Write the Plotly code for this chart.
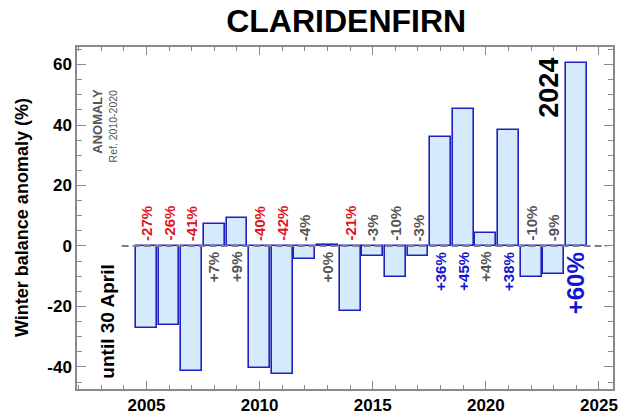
import plotly.graph_objects as go

# Winter balance anomaly relative to the 2010-2020 reference, measured until 30 April
years = [2005, 2006, 2007, 2008, 2009, 2010, 2011, 2012, 2013, 2014,
         2015, 2016, 2017, 2018, 2019, 2020, 2021, 2022, 2023, 2024]
anomaly = [-27.2, -26.0, -41.4, 7.4, 9.4, -40.4, -42.4, -4.4, 0.3, -21.4,
           -3.4, -10.4, -3.2, 36.2, 45.4, 4.4, 38.2, -10.2, -9.4, 60.4]

x_ticks = [2005, 2010, 2015, 2020, 2025]
y_ticks = [-40, -20, 0, 20, 40, 60]
y_tick_text = ["-40", "-20", "0", "20", "40", "60"]

FONT = "Liberation Sans, Arial, Helvetica, sans-serif"
RED = "#e3141c"
GREY = "#555555"
BLUE = "#1414d2"
AXIS = "#8a8a8a"

fig = go.Figure()

fig.add_trace(go.Bar(
    x=years, y=anomaly, width=0.92,
    marker=dict(color="#d5ebfb", line=dict(color="#2020c0", width=1.6)),
    hoverinfo="x+y",
))

# dashed zero reference line
fig.add_shape(type="line", xref="x", yref="y", x0=2003.9, x1=2025.35, y0=0, y1=0,
              line=dict(color="#808080", width=2, dash="7px,4px"), layer="above")

annotations = []
for yr, v in zip(years, anomaly):
    r = round(v)
    txt = f"{r:+d}%"
    if abs(v) >= 20:
        col = RED if v < 0 else BLUE
    else:
        col = GREY
    big = yr == years[-1]
    size = 24 if big else 15
    if v < 0:
        anchor, shift = "bottom", 3
    else:
        anchor, shift = "top", -4
    annotations.append(dict(
        x=yr, y=0, xref="x", yref="y", text=txt, showarrow=False,
        textangle=-90, yanchor=anchor, xanchor="center", yshift=shift,
        font=dict(family=FONT, size=size, color=col, weight="bold"),
    ))

annotations += [
    dict(x=2022.8, y=63, xref="x", yref="y", text="2024", showarrow=False,
         textangle=-90, yanchor="top", xanchor="center",
         font=dict(family=FONT, size=27, color="black", weight="bold")),
    dict(x=2002.8, y=41.3, xref="x", yref="y", text="ANOMALY", showarrow=False,
         textangle=-90, font=dict(family=FONT, size=13, color=GREY, weight="bold")),
    dict(x=2003.5, y=39.7, xref="x", yref="y", text="Ref. 2010-2020", showarrow=False,
         textangle=-90, font=dict(family=FONT, size=10.5, color=GREY)),
    dict(x=2003.26, y=-25.0, xref="x", yref="y", text="until 30 April", showarrow=False,
         textangle=-90, font=dict(family=FONT, size=19, color="black", weight="bold")),
    dict(x=0, y=0.5, xref="paper", yref="paper", xshift=-55, text="Winter balance anomaly (%)",
         showarrow=False, textangle=-90, xanchor="center", yanchor="middle",
         font=dict(family=FONT, size=18, color="black", weight="bold")),
]

fig.update_layout(
    width=626, height=419,
    margin=dict(l=77, r=13, t=47, b=30, autoexpand=False),
    paper_bgcolor="white", plot_bgcolor="white",
    showlegend=False,
    title=dict(text="CLARIDENFIRN", x=0.553, xanchor="center", y=0.95, yanchor="middle",
               font=dict(family=FONT, size=32, color="black", weight="bold")),
    annotations=annotations,
    bargap=0,
)

fig.update_xaxes(
    range=[2001.93, 2025.62], tickvals=x_ticks, ticks="inside", ticklen=8, tickwidth=1,
    tickcolor=AXIS, showline=True, linecolor=AXIS, linewidth=1.5, mirror="allticks",
    showgrid=False, zeroline=False, automargin=False,
    tickfont=dict(family=FONT, size=17, color="black", weight="bold"),
    minor=dict(dtick=1, tick0=2000, ticks="inside", ticklen=4, tickcolor=AXIS, showgrid=False),
)
fig.update_yaxes(
    range=[-47.3, 65.8], tickvals=y_ticks, ticktext=y_tick_text, ticks="inside", ticklen=9,
    tickwidth=1, tickcolor=AXIS, showline=True, linecolor=AXIS, linewidth=1.5,
    mirror="allticks", showgrid=False, zeroline=False, automargin=False,
    tickfont=dict(family=FONT, size=17, color="black", weight="bold"),
    minor=dict(dtick=5, tick0=0, ticks="inside", ticklen=5, tickcolor=AXIS, showgrid=False),
)

fig.write_html("out.html")
